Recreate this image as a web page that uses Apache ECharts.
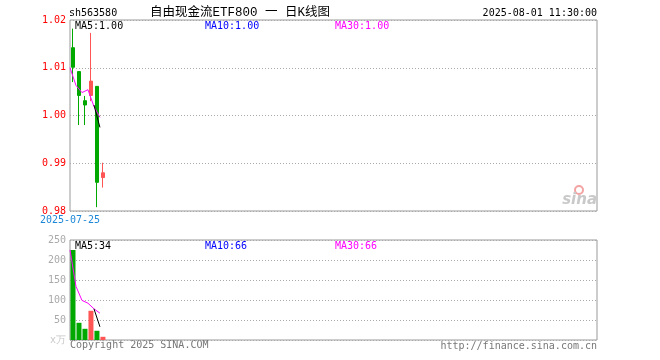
<!DOCTYPE html>
<html><head><meta charset="utf-8">
<script src="https://cdn.jsdelivr.net/npm/echarts@6/dist/echarts.min.js"></script>
<style>html,body{margin:0;padding:0;background:#fff}#c{width:660px;height:360px}</style>
</head><body><div id="c"></div>
<script>
const dates = ['2025-07-25','2025-07-28','2025-07-29','2025-07-30','2025-07-31','2025-08-01'];
const opens  = [1.0142, 1.0092, 1.0031, 1.0042, 1.0061, 0.9870];
const closes = [1.0101, 1.0042, 1.0022, 1.0072, 0.9860, 0.9880];
const lows   = [1.0070, 0.9980, 0.9980, 1.0030, 0.9808, 0.9849];
const highs  = [1.0182, 1.0092, 1.0041, 1.0173, 1.0061, 0.9901];
const volumes = [225, 43, 28, 73, 23, 8];
const priceMA30 = [1.0100, 1.0063, 1.0048, 1.0054, 1.0019, 0.9996];
const priceMA5  = [null, null, null, null, 1.0022, 0.9975];
const volMA30 = [225, 134, 99, 92, 78, 67];
const volMA5  = [null, null, null, null, 78, 33];
const priceLegend = ['MA5:1.00', 'MA10:1.00', 'MA30:1.00'];
const volLegend = ['MA5:34', 'MA10:66', 'MA30:66'];
const priceMin = 0.98, priceMax = 1.02, priceStep = 0.01;
const volMin = 0, volMax = 250, volStep = 50;
const SLOTS = 88;

const GREEN = '#00a800', RED = '#ff5555', MONO = '"DejaVu Sans Mono", "Liberation Mono", monospace';
const candleCats = [], lineCats = [];
for (let i = 0; i < SLOTS; i++) candleCats.push(i < dates.length ? dates[i] : 'c' + i);
for (let i = 0; i <= SLOTS; i++) lineCats.push(i < dates.length ? dates[i] : 'l' + i);
const ohlc = dates.map((d, i) => [opens[i], closes[i], lows[i], highs[i]]);
const volData = volumes.map((v, i) => ({value: v, itemStyle: {color: closes[i] >= opens[i] ? RED : GREEN}}));

const chart = echarts.init(document.getElementById('c'), null, {renderer: 'canvas'});
const hidden = {show: false};
const mkX = (grid, data, gap, extra) => Object.assign({
  type: 'category', gridIndex: grid, data: data, boundaryGap: gap, position: 'bottom',
  axisLine: hidden, axisTick: hidden, axisLabel: hidden, splitLine: hidden
}, extra || {});
const lineStyle = c => ({color: c, width: 1});
chart.setOption({
  animation: false,
  grid: [
    {left: 70, top: 20, width: 527, height: 191, show: true, borderColor: '#999', borderWidth: 1},
    {left: 70, top: 240, width: 527, height: 100, show: true, borderColor: '#999', borderWidth: 1}
  ],
  xAxis: [
    mkX(0, candleCats, true),
    mkX(0, lineCats, false, {axisLabel: {show: true, interval: (i) => i === 0, color: '#1e88d8', fontFamily: MONO, fontSize: 10, margin: 4, showMinLabel: true}}),
    mkX(1, candleCats, true),
    mkX(1, lineCats, false)
  ],
  yAxis: [
    {type: 'value', gridIndex: 0, min: priceMin, max: priceMax, interval: priceStep, scale: true,
     axisLine: hidden, axisTick: hidden,
     axisLabel: {color: '#ff0000', fontFamily: MONO, fontSize: 10, margin: 4, formatter: v => v.toFixed(2)},
     splitLine: {show: true, lineStyle: {color: '#aaa', type: [1, 2], width: 1}}},
    {type: 'value', gridIndex: 1, min: volMin, max: volMax, interval: volStep,
     axisLine: hidden, axisTick: hidden,
     axisLabel: {color: '#aaa', fontFamily: MONO, fontSize: 10, margin: 4,
       formatter: v => v === 0 ? '{u|x万}' : String(v),
       rich: {u: {color: '#c8c8c8', fontSize: 10, fontFamily: MONO}}},
     splitLine: {show: true, lineStyle: {color: '#aaa', type: [1, 2], width: 1}}}
  ],
  series: [
    {type: 'candlestick', xAxisIndex: 0, yAxisIndex: 0, data: ohlc, barWidth: 4,
     itemStyle: {color: RED, color0: GREEN, borderColor: RED, borderColor0: GREEN, borderWidth: 1}},
    {type: 'line', xAxisIndex: 1, yAxisIndex: 0, data: priceMA30, symbol: 'none', lineStyle: lineStyle('#ff00ff'), z: 5},
    {type: 'line', xAxisIndex: 1, yAxisIndex: 0, data: priceMA5, symbol: 'none', lineStyle: lineStyle('#000'), z: 6},
    {type: 'bar', xAxisIndex: 2, yAxisIndex: 1, data: volData, barWidth: 5},
    {type: 'line', xAxisIndex: 3, yAxisIndex: 1, data: volMA30, symbol: 'none', lineStyle: lineStyle('#ff00ff'), z: 5},
    {type: 'line', xAxisIndex: 3, yAxisIndex: 1, data: volMA5, symbol: 'none', lineStyle: lineStyle('#000'), z: 6}
  ],
  graphic: [
    {type: 'text', left: 69, top: 8, style: {text: 'sh563580', font: '10px ' + MONO, fill: '#000'}},
    {type: 'text', left: 150, top: 6, style: {text: '自由现金流ETF800 一 日K线图', font: '12.5px "Liberation Mono", "Noto Sans CJK SC"', fill: '#000'}},
    {type: 'text', right: 63, top: 8, style: {text: '2025-08-01 11:30:00', font: '10px ' + MONO, fill: '#000'}},
    {type: 'text', left: 75, top: 21, style: {text: priceLegend[0], font: '10px ' + MONO, fill: '#000'}},
    {type: 'text', left: 205, top: 21, style: {text: priceLegend[1], font: '10px ' + MONO, fill: '#0000ff'}},
    {type: 'text', left: 335, top: 21, style: {text: priceLegend[2], font: '10px ' + MONO, fill: '#ff00ff'}},
    {type: 'text', left: 75, top: 241, style: {text: volLegend[0], font: '10px ' + MONO, fill: '#000'}},
    {type: 'text', left: 205, top: 241, style: {text: volLegend[1], font: '10px ' + MONO, fill: '#0000ff'}},
    {type: 'text', left: 335, top: 241, style: {text: volLegend[2], font: '10px ' + MONO, fill: '#ff00ff'}},
    {type: 'text', left: 70, top: 340, style: {text: 'Copyright 2025 SINA.COM', font: '10px ' + MONO, fill: '#777'}},
    {type: 'text', right: 63, top: 341, style: {text: 'http://finance.sina.com.cn', font: '10px ' + MONO, fill: '#777'}},
    {type: 'circle', shape: {cx: 579, cy: 190, r: 4}, style: {fill: 'none', stroke: '#f3a3a3', lineWidth: 2}},
    {type: 'text', right: 63, top: 193, style: {text: 'sina', font: 'italic bold 15px "DejaVu Sans"', fill: '#c9c9c9'}}
  ]
});
</script></body></html>
